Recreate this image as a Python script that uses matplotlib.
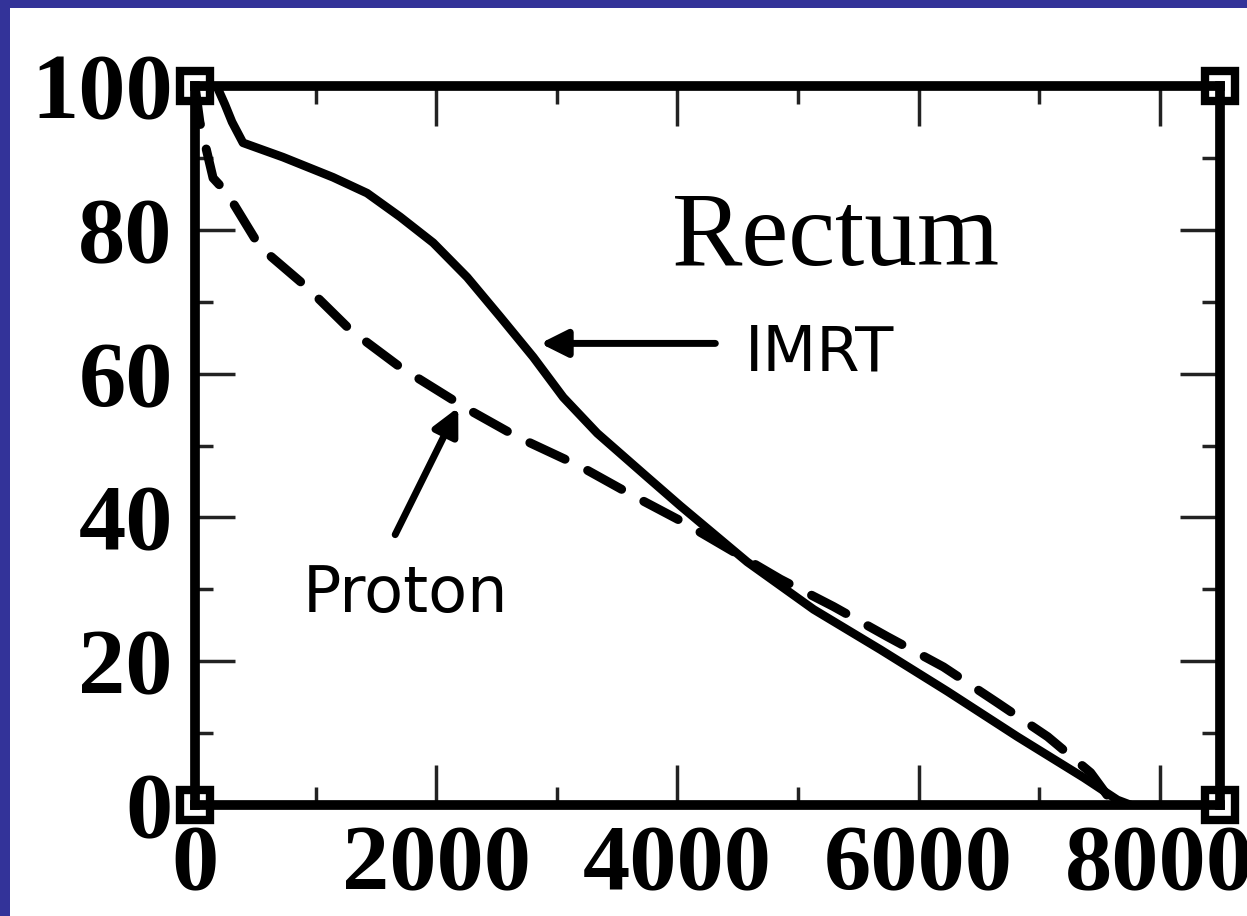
import matplotlib
matplotlib.use("Agg")
from matplotlib import pyplot as plt
from matplotlib.patches import Rectangle
from matplotlib.ticker import MultipleLocator

# dose-volume histogram, rectum
imrt_dose = [0, 180, 249, 307, 398, 730, 1145, 1427, 1701, 1975, 2257, 2531,
             2805, 3054, 3336, 3751, 4025, 4580, 5130, 5685, 6240, 6820, 7370,
             7650, 7760]
imrt_vol = [100, 100, 97.4, 95, 92.1, 90.1, 87.3, 85.1, 81.8, 78.2, 73.4, 67.9,
            62.3, 56.7, 51.7, 45.6, 41.6, 33.8, 27.2, 21.6, 15.8, 9.5, 3.8,
            0.7, 0]

proton_dose = [0, 40, 150, 266, 539, 929, 1286, 1701, 2257, 2672, 3195,
               3635, 4030, 4855, 5295, 5743, 6207, 6656, 7071, 7427, 7593, 7676]
proton_vol = [100, 95, 87.2, 85.1, 77.6, 72, 66.1, 60.9, 55.1, 51.2, 47.1,
              43, 39.5, 31.4, 27.6, 23.4, 19.2, 14.2, 9.5, 4.5, 0.7, 0]

x_ticks = [0, 2000, 4000, 6000, 8000]
y_ticks = [0, 20, 40, 60, 80, 100]

W, H = 1247, 916
blue = "#333399"
fig = plt.figure(figsize=(W / 100, H / 100), dpi=100, facecolor="white")
# blue frame, only on top and left
fig.patches.append(Rectangle((0, 0), 10 / W, 1, transform=fig.transFigure,
                             facecolor=blue, edgecolor="none"))
fig.patches.append(Rectangle((0, 1 - 8 / H), 1, 8 / H, transform=fig.transFigure,
                             facecolor=blue, edgecolor="none"))

ax = fig.add_axes([195 / W, 111 / H, (1220 - 195) / W, (830 - 111) / H])
ax.set_facecolor("white")

ax.plot(imrt_dose, imrt_vol, color="black", lw=6.2, solid_capstyle="round",
        solid_joinstyle="round", zorder=3)
ax.plot(proton_dose, proton_vol, color="black", lw=6.5, linestyle=(0, (4.3, 2.8)),
        dash_capstyle="round", dash_joinstyle="round", zorder=3)

ax.set_xlim(0, 8500)
ax.set_ylim(0, 100)
ax.set_xticks(x_ticks)
ax.set_yticks(y_ticks)
ax.xaxis.set_minor_locator(MultipleLocator(1000))
ax.yaxis.set_minor_locator(MultipleLocator(10))
ax.tick_params(which="both", direction="in", top=True, right=True, width=2.5, color="#222222")
ax.tick_params(which="major", length=29)
ax.tick_params(which="minor", length=13)
ax.tick_params(axis="x", pad=14)
ax.tick_params(axis="y", pad=16)
for lab in ax.get_xticklabels() + ax.get_yticklabels():
    lab.set_fontfamily("Liberation Serif")
    lab.set_fontweight("bold")
    lab.set_fontsize(68)
for sp in ax.spines.values():
    sp.set_linewidth(7)
    sp.set_zorder(4)

# xmgrace-style corner squares
corners_x = [0, 0, 8500, 8500]
corners_y = [0, 100, 100, 0]
ax.plot(corners_x, corners_y, linestyle="none", marker="s", markersize=21,
        markerfacecolor="white", markeredgecolor="black", markeredgewidth=6,
        clip_on=False, zorder=2)

ax.text(3959, 75.1, "Rectum", fontfamily="Liberation Serif", fontsize=76,
        ha="left", va="baseline")
ax.text(4564, 60.5, "IMRT", fontfamily="DejaVu Sans", fontsize=45,
        ha="left", va="baseline")
ax.text(896, 26.8, "Proton", fontfamily="DejaVu Sans", fontsize=46,
        ha="left", va="baseline")

arrow = dict(arrowstyle="-|>", lw=5, color="black", mutation_scale=40,
             shrinkA=0, shrinkB=0)
ax.annotate("", xy=(2863, 64.2), xytext=(4315, 64.2), arrowprops=arrow)
ax.annotate("", xy=(2183, 55.3), xytext=(1660, 37.6), arrowprops=arrow)

fig.savefig("out.png", dpi=100, facecolor=fig.get_facecolor())
